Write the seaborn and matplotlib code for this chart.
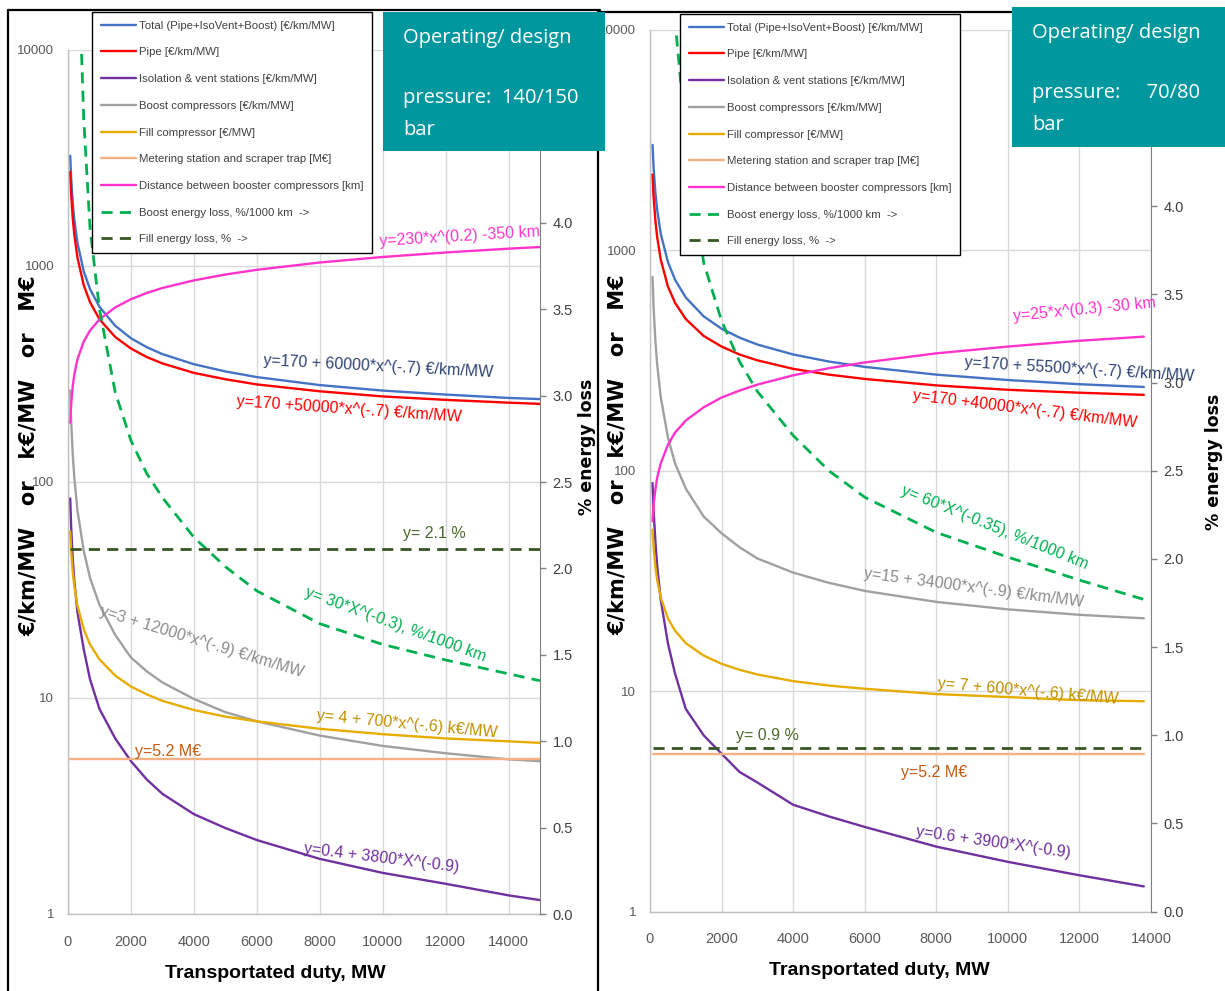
import numpy as np
import matplotlib
matplotlib.use("Agg")
import matplotlib.pyplot as plt
import seaborn as sns
from matplotlib.patches import Rectangle
from matplotlib.lines import Line2D
from matplotlib.ticker import FuncFormatter, NullLocator

## values
# left chart: operating/design pressure 140/150 bar
x_left = [70, 100, 150, 200, 300, 500, 700, 1000, 1500, 2000, 2500, 3000, 4000, 5000,
          6000, 8000, 10000, 12000, 14000, 15000]
total_left = [3240, 2560, 1970, 1640, 1280, 945, 782, 647, 529, 463, 421, 391, 351, 325,
              306, 281, 265, 254, 245, 242]
pipe_left = [2730, 2160, 1670, 1400, 1093, 815, 680, 567, 469, 415, 379, 354, 320, 299,
             283, 263, 249, 240, 233, 230]
iso_left = [84, 62, 44, 35, 25, 16.8, 12.2, 8.9, 6.5, 5.1, 4.2, 3.6, 2.9, 2.5,
            2.2, 1.8, 1.55, 1.38, 1.22, 1.16]
boost_left = [265, 193, 135, 105, 74, 48, 36, 27, 19.6, 15.4, 13.3, 11.8, 9.9, 8.6,
              7.8, 6.7, 6.0, 5.55, 5.2, 5.1]
fill_left = [59, 48, 38.6, 33, 26.8, 20.8, 17.7, 15.1, 12.7, 11.3, 10.4, 9.7, 8.8, 8.2,
             7.8, 7.2, 6.8, 6.5, 6.3, 6.2]
dist_left = [188, 228, 277, 314, 370, 447, 503, 566, 643, 702, 750, 791, 858, 913,
             960, 1038, 1101, 1155, 1203, 1224]
boost_loss_left = [11, 9.5, 8.0, 7.0, 5.7, 4.6, 3.97, 3.5, 3.02, 2.74, 2.55, 2.41, 2.18, 2.01,
                   1.87, 1.68, 1.56, 1.47, 1.39, 1.35]
flat_x_left = [70, 15000]
meter_left = [5.2, 5.2]
fill_loss_left = [2.11, 2.11]

# right chart: operating/design pressure 70/80 bar
x_right = [70, 100, 150, 200, 300, 500, 700, 1000, 1500, 2000, 2500, 3000, 4000, 5000,
           6000, 8000, 10000, 12000, 13800]
total_right = [3010, 2380, 1830, 1530, 1190, 886, 736, 611, 502, 441, 402, 374, 337, 313,
               296, 273, 258, 247, 240]
pipe_right = [2210, 1760, 1370, 1150, 908, 686, 578, 488, 409, 366, 337, 317, 290, 273,
              261, 244, 233, 226, 221]
iso_right = [88, 66, 48, 37, 26, 16.5, 12, 8.3, 6.3, 5.2, 4.3, 3.85, 3.05, 2.7,
             2.42, 1.97, 1.68, 1.46, 1.3]
boost_right = [758, 554, 389, 304, 216, 142, 108, 83, 62, 52, 45, 40, 34.5, 31,
               28.5, 25.4, 23.5, 22.2, 21.4]
fill_right = [54, 45, 36.7, 32, 26.6, 21.4, 18.8, 16.5, 14.5, 13.3, 12.5, 11.9, 11.1, 10.6,
              10.25, 9.7, 9.4, 9.1, 9.0]
dist_right = [59, 70, 82, 93, 108, 131, 149, 169, 194, 215, 231, 246, 271, 292,
              310, 341, 366, 389, 406]
boost_loss_right = [9.0, 8.0, 7.2, 6.7, 6.0, 5.4, 5.05, 4.4, 3.68, 3.35, 3.12, 2.95, 2.7, 2.5,
                    2.35, 2.15, 2.01, 1.88, 1.77]
flat_x_right = [70, 13800]
meter_right = [5.2, 5.2]
fill_loss_right = [0.93, 0.93]

legend_labels = ['Total (Pipe+IsoVent+Boost) [€/km/MW]', 'Pipe [€/km/MW]',
                 'Isolation & vent stations [€/km/MW]', 'Boost compressors [€/km/MW]',
                 'Fill compressor [€/MW]', 'Metering station and scraper trap [M€]',
                 'Distance between booster compressors [km]',
                 'Boost energy loss, %/1000 km  ->', 'Fill energy loss, %  ->']

# fitted-curve labels: text, x, y (primary axis), rotation, colour
notes_left = [
    ('y=230*x^(0.2) -350 km', 12450, 1365, 3.5, '#ff33cc'),
    ('y=170 + 60000*x^(-.7) €/km/MW', 9850, 344, -3, '#2e4272'),
    ('y=170 +50000*x^(-.7) €/km/MW', 8930, 217, -4, '#ff0000'),
    ('y= 2.1 %', 11630, 57.8, 0, '#4a6a2a'),
    ('y= 30*X^(-0.3), %/1000 km', 10420, 21.9, -20, '#00b050'),
    ('y=3 + 12000*x^(-.9) €/km/MW', 4240, 18.2, -17, '#8c8c8c'),
    ('y= 4 + 700*x^(-.6) k€/MW', 10770, 7.6, -5.5, '#bf9000'),
    ('y=5.2 M€', 3180, 5.64, 0, '#c55a11'),
    ('y=0.4 + 3800*X^(-0.9)', 9950, 1.82, -7, '#7030a0'),
]
notes_right = [
    ('y=25*x^(0.3) -30 km', 12130, 536, 5.5, '#ff33cc'),
    ('y=170 + 55500*x^(-.7) €/km/MW', 11990, 289, -3.5, '#2e4272'),
    ('y=170 +40000*x^(-.7) €/km/MW', 10480, 190, -7, '#ff0000'),
    ('y= 60*X^(-0.35), %/1000 km', 9625, 55.5, -22, '#00b050'),
    ('y=15 + 34000*x^(-.9) €/km/MW', 9050, 29.5, -7.5, '#8c8c8c'),
    ('y= 7 + 600*x^(-.6) k€/MW', 10570, 10.0, -5, '#bf9000'),
    ('y= 0.9 %', 3270, 6.32, 0, '#4a6a2a'),
    ('y=5.2 M€', 7940, 4.27, 0, '#c55a11'),
    ('y=0.6 + 3900*X^(-0.9)', 9590, 2.05, -8, '#7030a0'),
]

## style
sns.set_style("white")
plt.rcParams['font.family'] = ['Liberation Sans', 'DejaVu Sans']

colors = ['#4472c4', '#ff0000', '#7030a0', '#a0a0a0', '#e6ac00', '#f4b183', '#ff33cc',
          '#00b050', '#375623']
LW = 1.7
TEAL = '#00979f'

W, H = 1225, 991
fig = plt.figure(figsize=(W / 100, H / 100), dpi=100)


def fx(px):
    return px / W


def fy(py):
    return 1 - py / H


def draw_panel(rect, x, flat_x, series, losses, xmax, notes, legend_xy):
    ax = fig.add_axes(rect)
    ax2 = ax.twinx()
    for vals, xs, col, lab in zip(series, [x] * 5 + [flat_x] + [x], colors[:7], legend_labels[:7]):
        sns.lineplot(x=xs, y=vals, ax=ax, color=col, lw=LW, label=lab)
    for vals, xs, col, lab in zip(losses, [x, flat_x], colors[7:], legend_labels[7:]):
        sns.lineplot(x=xs, y=vals, ax=ax2, color=col, lw=LW + 0.3, label=lab)
        ax2.lines[-1].set_dashes([4, 2.6])

    ax.set_yscale('log')
    ax.set_ylim(1, 10000)
    ax.set_xlim(0, xmax)
    ax.set_xticks(range(0, xmax + 1, 2000))
    ax.set_yticks([1, 10, 100, 1000, 10000])
    ax.yaxis.set_minor_locator(NullLocator())
    ax.yaxis.set_major_formatter(FuncFormatter(lambda v, p: f"{v:g}"))
    ax.grid(True, which='major', color='#d9d9d9', lw=1.0)
    ax.tick_params(axis='both', length=0, labelcolor='#595959')
    ax.tick_params(axis='y', labelsize=9.5, pad=10)
    ax.tick_params(axis='x', labelsize=10.5, pad=15)
    for s in ['top', 'right']:
        ax.spines[s].set_visible(False)
    for s in ['left', 'bottom']:
        ax.spines[s].set_color('#bfbfbf')
        ax.spines[s].set_linewidth(1.0)

    # 4.5 and 5.0 sit under the teal box in the original, so only 0-4 are labelled
    ax2.set_ylim(0, 5)
    ax2.set_yticks(np.arange(0, 4.01, 0.5))
    ax2.yaxis.set_major_formatter(FuncFormatter(lambda v, p: f"{v:.1f}"))
    ax2.tick_params(axis='y', length=4, width=1, color='#808080', labelsize=10.5,
                    labelcolor='#404040', pad=5)
    for s in ['top', 'left', 'bottom']:
        ax2.spines[s].set_visible(False)
    ax2.spines['right'].set_color('#808080')

    for t, xt, yt, rot, col in notes:
        ax.text(xt, yt, t, color=col, fontsize=11.5, rotation=rot, ha='center', va='center',
                rotation_mode='anchor')

    ax.set_xlabel('Transportated duty, MW', fontsize=14, fontweight='bold', color='black')
    ax.set_ylabel('€/km/MW   or   k€/MW   or   M€', fontsize=15, fontweight='bold',
                  color='black', family=['DejaVu Sans'])
    ax2.set_ylabel('% energy loss', fontsize=12.5, fontweight='bold', color='black',
                   family=['DejaVu Sans'])

    h1, l1 = ax.get_legend_handles_labels()
    h2, l2 = ax2.get_legend_handles_labels()
    ax.get_legend().remove()
    ax2.get_legend().remove()
    leg = fig.legend(h1 + h2, l1 + l2, loc='upper left', bbox_to_anchor=legend_xy,
                     bbox_transform=fig.transFigure, frameon=True, fancybox=False,
                     edgecolor='black', framealpha=1, fontsize=8.2, labelcolor='#404040',
                     handlelength=3.1, handletextpad=0.3, labelspacing=1.47,
                     borderpad=0.75, borderaxespad=0)
    leg.get_frame().set_linewidth(1.0)
    return ax, ax2


# left chart
axL, axL2 = draw_panel([fx(68), fy(914), fx(540) - fx(68), fy(50) - fy(914)],
                       x_left, flat_x_left,
                       [total_left, pipe_left, iso_left, boost_left, fill_left, meter_left, dist_left],
                       [boost_loss_left, fill_loss_left], 15000, notes_left, (fx(92), fy(12)))
# right chart
axR, axR2 = draw_panel([fx(650), fy(911.5), fx(1151) - fx(650), fy(30) - fy(911.5)],
                       x_right, flat_x_right,
                       [total_right, pipe_right, iso_right, boost_right, fill_right, meter_right, dist_right],
                       [boost_loss_right, fill_loss_right], 14000, notes_right, (fx(680), fy(14)))

# axis title placement
for ax, ax2, yl, e2, xl in [(axL, axL2, (-0.0837, 0.531), (1.0996, 0.5405), (0.4386, -0.0683)),
                            (axR, axR2, (-0.0639, 0.518), (1.1257, 0.51), (0.457, -0.0664))]:
    for lab in [ax.yaxis.label, ax2.yaxis.label, ax.xaxis.label]:
        lab.set_ha('center')
        lab.set_va('center')
        lab.set_rotation_mode('anchor')
    ax.yaxis.set_label_coords(*yl)
    ax2.yaxis.set_label_coords(*e2)
    ax.xaxis.set_label_coords(*xl)

# panel borders
border = dict(transform=fig.transFigure, color='black', lw=1.6, zorder=9)
fig.add_artist(Line2D([fx(8), fx(8)], [fy(10), -0.02], **border))
fig.add_artist(Line2D([fx(8), fx(600)], [fy(10), fy(10)], **border))
fig.add_artist(Line2D([fx(598), fx(598)], [fy(10), -0.02], **border))
fig.add_artist(Line2D([fx(598), fx(1225)], [fy(12), fy(12)], **border))

# teal pressure boxes
for (x0, y0, x1, y1), lines in [((383, 12, 605, 151), ['Operating/ design', 'pressure:  140/150', 'bar']),
                                ((1012, 7, 1225, 147), ['Operating/ design', 'pressure:     70/80', 'bar'])]:
    fig.add_artist(Rectangle((fx(x0), fy(y1)), fx(x1) - fx(x0), fy(y0) - fy(y1),
                             transform=fig.transFigure, facecolor=TEAL, edgecolor='none', zorder=10))
    for txt, dy in zip(lines, [26, 86, 118]):
        fig.text(fx(x0 + 20), fy(y0 + dy), txt, color='white', fontsize=14.5,
                 family=['Open Sans', 'DejaVu Sans'], ha='left', va='center', zorder=11)

fig.savefig('out.png', dpi=100)
